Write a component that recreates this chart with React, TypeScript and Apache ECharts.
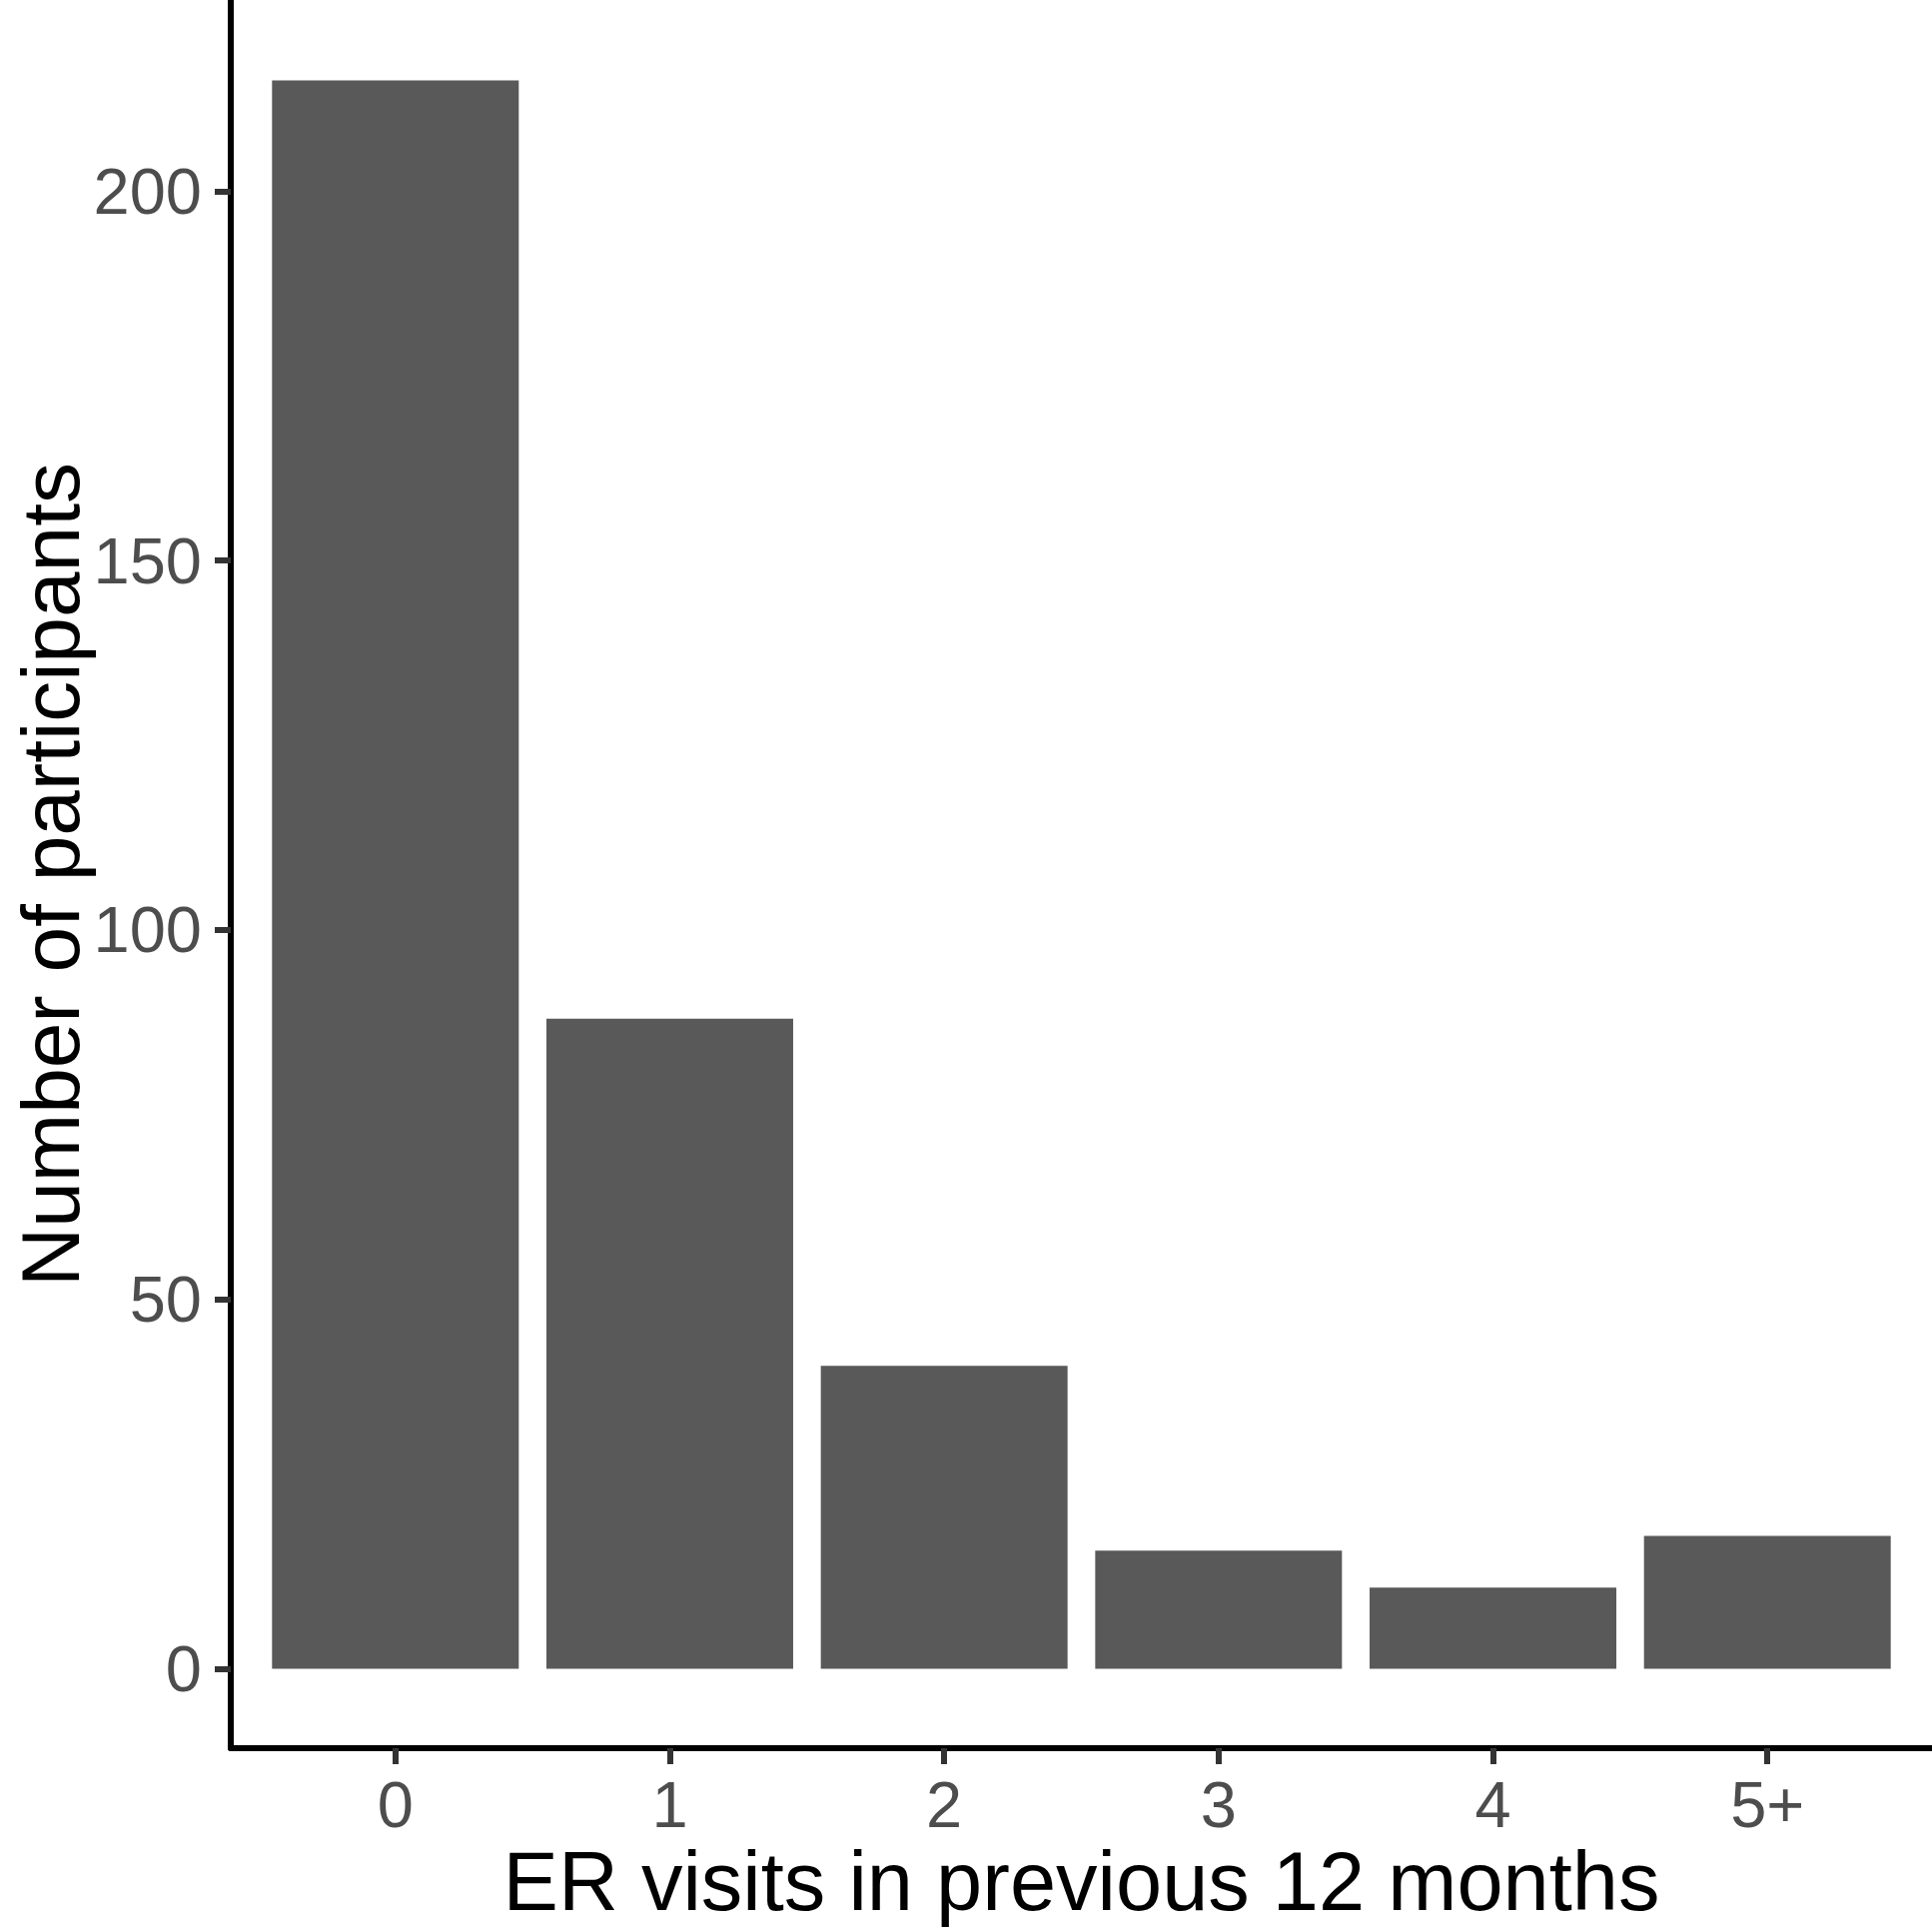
import React, { useEffect, useRef } from "react";
import * as echarts from "echarts";

const categories = ["0", "1", "2", "3", "4", "5+"];
const participants = [215, 88, 41, 16, 11, 18];
const yTicks = [0, 50, 100, 150, 200];
const xPositions = categories.map((_, i) => i);

const FONT = "'Liberation Sans', Arial, Helvetica, sans-serif";

export default function App() {
  const ref = useRef<HTMLDivElement>(null);
  useEffect(() => {
    document.body.style.margin = "0";
    const chart = echarts.init(ref.current!, null, { renderer: "svg" });
    chart.setOption({
      animation: false,
      backgroundColor: "#ffffff",
      grid: {
        left: 231,
        right: 0,
        top: 1,
        bottom: 183,
        containLabel: false,
        outerBoundsMode: "none",
      },
      xAxis: {
        type: "value",
        min: -0.6,
        max: 5.6,
        name: "ER visits in previous 12 months",
        nameLocation: "middle",
        nameGap: 92,
        nameMoveOverlap: false,
        nameTextStyle: { fontSize: 83, color: "#000000", fontFamily: FONT, lineHeight: 83 },
        axisLine: { show: true, onZero: false, lineStyle: { color: "#000000", width: 6 } },
        axisTick: { show: true, length: 16, customValues: xPositions, lineStyle: { color: "#333333", width: 6 } },
        axisLabel: {
          customValues: xPositions,
          formatter: (v: number) => categories[Math.round(v)] ?? "",
          fontSize: 65,
          lineHeight: 65,
          color: "#4D4D4D",
          fontFamily: FONT,
          margin: 24,
        },
        splitLine: { show: false },
      },
      yAxis: {
        type: "value",
        min: -10.75,
        max: 225.75,
        name: "Number of participants",
        nameLocation: "middle",
        nameGap: 140,
        nameRotate: 90,
        nameMoveOverlap: false,
        nameTextStyle: { fontSize: 82, color: "#000000", fontFamily: FONT, lineHeight: 82 },
        axisLine: { show: true, onZero: false, lineStyle: { color: "#000000", width: 6 } },
        axisTick: { show: true, length: 16, customValues: yTicks, lineStyle: { color: "#333333", width: 6 } },
        axisLabel: {
          customValues: yTicks,
          fontSize: 65,
          lineHeight: 65,
          color: "#4D4D4D",
          fontFamily: FONT,
          margin: 29,
        },
        splitLine: { show: false },
      },
      series: [
        {
          type: "bar",
          data: participants.map((v, i) => [xPositions[i], v]),
          barWidth: 247,
          itemStyle: { color: "#595959" },
          silent: true,
        },
      ],
    });
    return () => chart.dispose();
  }, []);
  return <div ref={ref} style={{ width: 1934, height: 1933 }} />;
}
